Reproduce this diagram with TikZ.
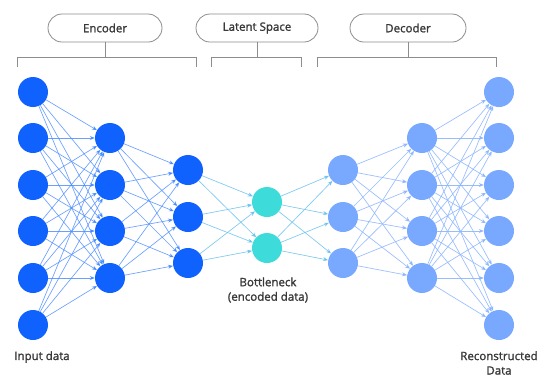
\documentclass[tikz,border=0pt]{standalone}
\usepackage{fontspec}
\setmainfont{Open Sans}
\newfontfamily\medfont{Open Sans}[FakeBold=1.6]
\usetikzlibrary{arrows.meta}
\definecolor{encblue}{HTML}{0F62FE}
\definecolor{bneck}{HTML}{3DDBD9}
\definecolor{decblue}{HTML}{78A9FF}
\definecolor{edgeenc}{HTML}{4589FF}
\definecolor{edgemid}{HTML}{6CC3F0}
\definecolor{edgedec}{HTML}{8CB6FF}
\definecolor{txt}{HTML}{393939}
\definecolor{frame}{HTML}{8D8D8D}
\tikzset{
  neuron/.style={circle, minimum size=30pt, inner sep=0pt},
  encn/.style={neuron, fill=encblue},
  bnn/.style={neuron, fill=bneck},
  decn/.style={neuron, fill=decblue},
  conn/.style={line width=0.65pt, -{Stealth[length=5pt,width=4pt]}},
  econn/.style={conn, draw=edgeenc, draw opacity=0.8},
  mconn/.style={conn, draw=edgemid, draw opacity=0.9},
  dconn/.style={conn, draw=edgedec, draw opacity=0.9},
  tag/.style={draw=frame, line width=0.8pt, rounded corners=14pt, minimum height=28pt, text=txt, font=\medfont\fontsize{11.5}{13}\selectfont},
  bracket/.style={draw=frame, line width=0.8pt},
  lbl/.style={text=txt, font=\medfont\fontsize{11.5}{14.5}\selectfont, inner sep=0pt}
}
\begin{document}
\begin{tikzpicture}[x=1pt,y=-1pt]
\clip (0,0) rectangle (544,376);
\fill[white] (0,0) rectangle (544,376);
% top tags
\node[tag, minimum width=114pt] (tenc) at (105,28) {Encoder};
\node[tag, minimum width=122pt] (tlat) at (257,28) {Latent Space};
\node[tag, minimum width=116pt] (tdec) at (408,28) {Decoder};
\coordinate (benc) at (105,57);
\coordinate (blat) at (257,57);
\coordinate (bdec) at (408,57);
\draw[bracket] (tenc.south) -- (benc);
\draw[bracket] (tlat.south) -- (blat);
\draw[bracket] (tdec.south) -- (bdec);
\draw[bracket] (17,67) -- (17,57) -- (196,57) -- (196,67);
\draw[bracket] (211,67) -- (211,57) -- (301,57) -- (301,67);
\draw[bracket] (317,67) -- (317,57) -- (496,57) -- (496,67);
% neurons
\foreach \i/\y in {1/92,2/138,3/185,4/231,5/278,6/325} {
  \node[encn] (a\i) at (33,\y) {};
  \node[decn] (f\i) at (499,\y) {};
}
\foreach \i/\y in {1/138,2/185,3/231,4/278} {
  \node[encn] (b\i) at (110,\y) {};
  \node[decn] (e\i) at (422,\y) {};
}
\foreach \i/\y in {1/170,2/217,3/263} {
  \node[encn] (c\i) at (188,\y) {};
  \node[decn] (d\i) at (343,\y) {};
}
\node[bnn] (z1) at (267,202) {};
\node[bnn] (z2) at (267,248) {};
% connections
\foreach \i in {1,...,6} \foreach \j in {1,...,4} \draw[econn] (a\i) -- (b\j);
\foreach \i in {1,...,4} \foreach \j in {1,...,3} \draw[econn] (b\i) -- (c\j);
\foreach \i in {1,...,3} \foreach \j in {1,2} \draw[mconn] (c\i) -- (z\j);
\foreach \i in {1,2} \foreach \j in {1,...,3} \draw[mconn] (z\i) -- (d\j);
\foreach \i in {1,...,3} \foreach \j in {1,...,4} \draw[dconn] (d\i) -- (e\j);
\foreach \i in {1,...,4} \foreach \j in {1,...,6} \draw[dconn] (e\i) -- (f\j);
% labels
\node[lbl] (lin) at (42,357) {Input data};
\node[lbl, align=center] (lbn) at (268,290) {Bottleneck\\(encoded data)};
\node[lbl, align=center] (lout) at (499,363) {Reconstructed\\Data};
\end{tikzpicture}
\end{document}
